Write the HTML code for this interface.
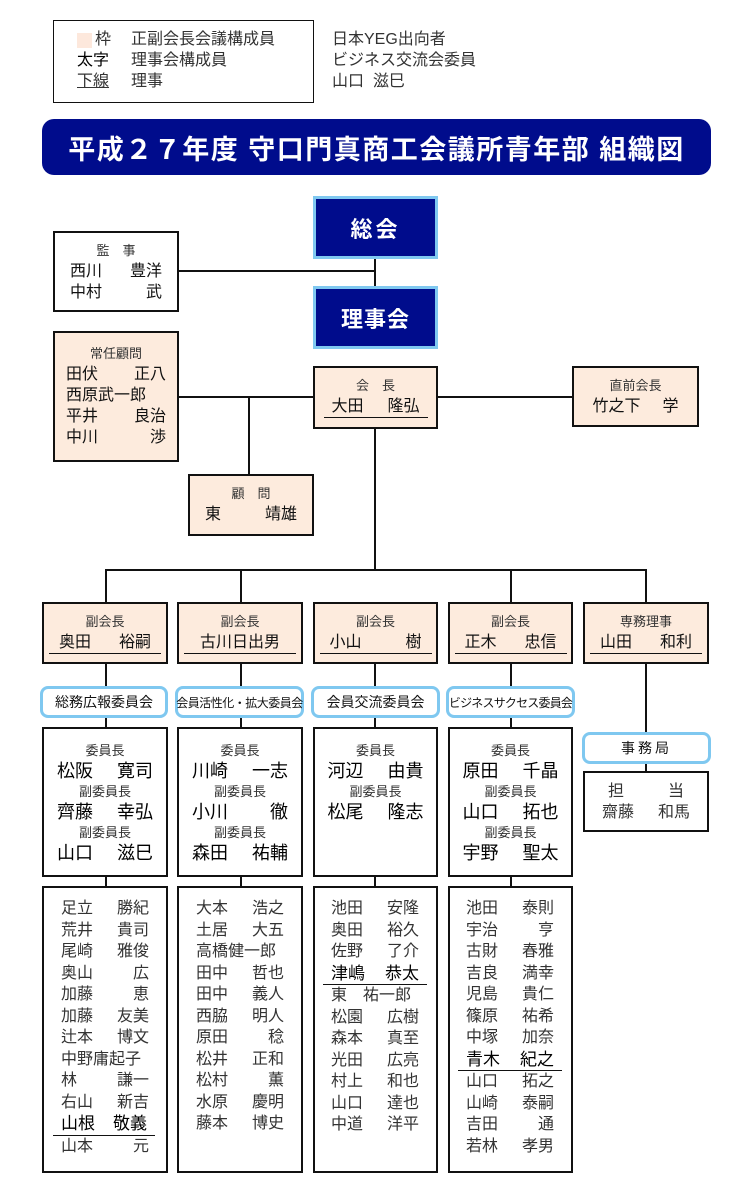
<!DOCTYPE html>
<html><head><meta charset="utf-8">
<style>
*{margin:0;padding:0;box-sizing:border-box}
body{width:750px;height:1200px;background:#fff;position:relative;font-family:"Liberation Sans","Noto Sans CJK JP",sans-serif;color:#222;overflow:hidden}
.a{position:absolute}
.box{position:absolute;border:2px solid #111;background:#fff}
.pk{background:#fdebdd}
.ln{position:absolute;background:#111}
.navy{position:absolute;background:#000c8c;border:3px solid #7fc8f0;color:#fff;font-weight:bold;font-size:22px;display:flex;align-items:center;justify-content:center;letter-spacing:3px}
.pill{position:absolute;border:3px solid #7fc8f0;border-radius:8px;background:#fff;display:flex;align-items:center;justify-content:center;font-size:14px;color:#111;white-space:nowrap}
.c{text-align:center}
.sm{font-size:13px;color:#333;line-height:20px}
.nm{display:flex;justify-content:space-between;font-size:16px;line-height:21px;color:#111}
.lst{position:absolute;top:898px}
.lst .nm{color:#333;line-height:21.5px;width:88px}
.b{color:#000!important;font-size:18px}
.u{border-bottom:1.5px solid #111}
</style></head><body>

<!-- legend -->
<div class="box" style="left:53px;top:20px;width:261px;height:83px;border-width:1.5px"></div>
<div class="a" style="left:77px;top:33px;width:15px;height:15px;background:#fde8dc"></div>
<div class="a" style="left:95px;top:29px;font-size:16px;line-height:21px;color:#333">枠</div>
<div class="a" style="left:77px;top:50px;font-size:16px;line-height:21px;color:#000">太字<br><span style="text-decoration:underline;color:#333">下線</span></div>
<div class="a" style="left:131px;top:29px;font-size:16px;line-height:21px;color:#333">正副会長会議構成員<br>理事会構成員<br>理事</div>
<div class="a" style="left:332px;top:29px;font-size:16px;line-height:21px;color:#333">日本YEG出向者<br>ビジネス交流会委員<br>山口&nbsp; 滋巳</div>

<!-- title -->
<div class="a" style="left:42px;top:119px;width:669px;height:56px;background:#000c8c;border-radius:12px;color:#fff;font-weight:bold;font-size:27px;display:flex;align-items:center;justify-content:center;letter-spacing:1.5px">平成２７年度 守口門真商工会議所青年部 組織図</div>

<!-- top nodes -->
<div class="navy" style="left:313px;top:196px;width:125px;height:63px">総会</div>
<div class="navy" style="left:313px;top:286px;width:125px;height:63px;letter-spacing:1px">理事会</div>
<div class="ln" style="left:374px;top:259px;width:2px;height:27px"></div>
<div class="ln" style="left:178px;top:270px;width:197px;height:2px"></div>

<div class="box" style="left:53px;top:231px;width:126px;height:81px">
 <div class="c sm" style="margin-top:8px">監　事</div>
 <div style="width:92px;margin:0 auto"><div class="nm"><span>西川</span><span>豊洋</span></div><div class="nm"><span>中村</span><span>武</span></div></div>
</div>

<div class="box pk" style="left:53px;top:331px;width:126px;height:131px">
 <div class="c sm" style="margin-top:11px">常任顧問</div>
 <div style="width:100px;margin:0 auto"><div class="nm"><span>田伏</span><span>正八</span></div><div class="nm"><span>西原武一郎</span></div><div class="nm"><span>平井</span><span>良治</span></div><div class="nm"><span>中川</span><span>渉</span></div></div>
</div>

<div class="ln" style="left:178px;top:396px;width:135px;height:2px"></div>
<div class="ln" style="left:437px;top:396px;width:135px;height:2px"></div>
<div class="ln" style="left:248px;top:396px;width:2px;height:78px"></div>
<div class="ln" style="left:374px;top:428px;width:2px;height:143px"></div>

<div class="box pk" style="left:313px;top:366px;width:125px;height:63px">
 <div class="c sm" style="margin-top:8px">会　長</div>
 <div class="nm u" style="width:104px;margin:0 auto;padding:0 8px"><span>大田</span><span>隆弘</span></div>
</div>
<div class="box pk" style="left:572px;top:366px;width:127px;height:61px">
 <div class="c sm" style="margin-top:8px">直前会長</div>
 <div class="nm" style="width:86px;margin:0 auto"><span>竹之下</span><span>学</span></div>
</div>
<div class="box pk" style="left:188px;top:474px;width:126px;height:62px">
 <div class="c sm" style="margin-top:8px">顧　問</div>
 <div class="nm" style="width:92px;margin:0 auto"><span>東</span><span>靖雄</span></div>
</div>

<!-- branch -->
<div class="ln" style="left:105px;top:569px;width:541px;height:2px"></div>
<div class="ln" style="left:105px;top:569px;width:2px;height:33px"></div>
<div class="ln" style="left:240px;top:569px;width:2px;height:33px"></div>
<div class="ln" style="left:510px;top:569px;width:2px;height:33px"></div>
<div class="ln" style="left:645px;top:569px;width:2px;height:33px"></div>

<!-- column vertical lines -->
<div class="ln" style="left:105px;top:662px;width:2px;height:230px"></div>
<div class="ln" style="left:240px;top:662px;width:2px;height:230px"></div>
<div class="ln" style="left:374px;top:662px;width:2px;height:230px"></div>
<div class="ln" style="left:510px;top:662px;width:2px;height:230px"></div>
<div class="ln" style="left:645px;top:662px;width:2px;height:115px"></div>

<!-- vice presidents -->
<div class="box pk" style="left:42px;top:602px;width:126px;height:62px"><div class="c sm" style="margin-top:8px">副会長</div><div class="nm u" style="width:112px;margin:0 auto;padding:0 10px"><span>奥田</span><span>裕嗣</span></div></div>
<div class="box pk" style="left:177px;top:602px;width:126px;height:62px"><div class="c sm" style="margin-top:8px">副会長</div><div class="nm u" style="width:112px;margin:0 auto;justify-content:center"><span>古川日出男</span></div></div>
<div class="box pk" style="left:313px;top:602px;width:125px;height:62px"><div class="c sm" style="margin-top:8px">副会長</div><div class="nm u" style="width:112px;margin:0 auto;padding:0 10px"><span>小山</span><span>樹</span></div></div>
<div class="box pk" style="left:448px;top:602px;width:125px;height:62px"><div class="c sm" style="margin-top:8px">副会長</div><div class="nm u" style="width:112px;margin:0 auto;padding:0 10px"><span>正木</span><span>忠信</span></div></div>
<div class="box pk" style="left:583px;top:602px;width:126px;height:62px"><div class="c sm" style="margin-top:8px">専務理事</div><div class="nm u" style="width:112px;margin:0 auto;padding:0 10px"><span>山田</span><span>和利</span></div></div>

<!-- committee pills -->
<div class="pill" style="left:40px;top:686px;width:128px;height:32px">総務広報委員会</div>
<div class="pill" style="left:175px;top:686px;width:129px;height:32px;font-size:12px;letter-spacing:-0.5px">会員活性化・拡大委員会</div>
<div class="pill" style="left:311px;top:686px;width:129px;height:32px">会員交流委員会</div>
<div class="pill" style="left:446px;top:686px;width:129px;height:32px;font-size:12px;letter-spacing:-0.8px">ビジネスサクセス委員会</div>
<div class="pill" style="left:582px;top:732px;width:129px;height:32px;letter-spacing:3px">事務局</div>

<!-- committee chairs -->
<div class="box" style="left:42px;top:727px;width:126px;height:150px"><div style="width:96px;margin:12px auto 0">
<div class="c sm">委員長</div><div class="nm b"><span>松阪</span><span>寛司</span></div>
<div class="c sm">副委員長</div><div class="nm b"><span>齊藤</span><span>幸弘</span></div>
<div class="c sm">副委員長</div><div class="nm b"><span>山口</span><span>滋巳</span></div></div></div>
<div class="box" style="left:177px;top:727px;width:126px;height:150px"><div style="width:96px;margin:12px auto 0">
<div class="c sm">委員長</div><div class="nm b"><span>川崎</span><span>一志</span></div>
<div class="c sm">副委員長</div><div class="nm b"><span>小川</span><span>徹</span></div>
<div class="c sm">副委員長</div><div class="nm b"><span>森田</span><span>祐輔</span></div></div></div>
<div class="box" style="left:313px;top:727px;width:125px;height:150px"><div style="width:96px;margin:12px auto 0">
<div class="c sm">委員長</div><div class="nm b"><span>河辺</span><span>由貴</span></div>
<div class="c sm">副委員長</div><div class="nm b"><span>松尾</span><span>隆志</span></div></div></div>
<div class="box" style="left:448px;top:727px;width:125px;height:150px"><div style="width:96px;margin:12px auto 0">
<div class="c sm">委員長</div><div class="nm b"><span>原田</span><span>千晶</span></div>
<div class="c sm">副委員長</div><div class="nm b"><span>山口</span><span>拓也</span></div>
<div class="c sm">副委員長</div><div class="nm b"><span>宇野</span><span>聖太</span></div></div></div>
<div class="box" style="left:583px;top:771px;width:126px;height:61px"><div style="width:88px;margin:8px auto 0">
<div class="nm" style="color:#333;padding:0 6px"><span>担</span><span>当</span></div><div class="nm" style="color:#333"><span>齋藤</span><span>和馬</span></div></div></div>

<!-- member lists -->
<div class="box" style="left:42px;top:886px;width:126px;height:287px"></div>
<div class="box" style="left:177px;top:886px;width:126px;height:287px"></div>
<div class="box" style="left:313px;top:886px;width:125px;height:287px"></div>
<div class="box" style="left:448px;top:886px;width:125px;height:287px"></div>

<div class="lst" style="left:61px">
<div class="nm"><span>足立</span><span>勝紀</span></div><div class="nm"><span>荒井</span><span>貴司</span></div><div class="nm"><span>尾崎</span><span>雅俊</span></div><div class="nm"><span>奥山</span><span>広</span></div><div class="nm"><span>加藤</span><span>恵</span></div><div class="nm"><span>加藤</span><span>友美</span></div><div class="nm"><span>辻本</span><span>博文</span></div><div class="nm"><span>中野庸起子</span></div><div class="nm"><span>林</span><span>謙一</span></div><div class="nm"><span>右山</span><span>新吉</span></div><div class="nm b" style="border-bottom:1.5px solid #111;width:102px;margin-left:-8px;padding:0 8px 0 8px;font-size:17px"><span>山根</span><span>敬義</span></div><div class="nm"><span>山本</span><span>元</span></div>
</div>
<div class="lst" style="left:196px">
<div class="nm"><span>大本</span><span>浩之</span></div><div class="nm"><span>土居</span><span>大五</span></div><div class="nm"><span>高橋健一郎</span></div><div class="nm"><span>田中</span><span>哲也</span></div><div class="nm"><span>田中</span><span>義人</span></div><div class="nm"><span>西脇</span><span>明人</span></div><div class="nm"><span>原田</span><span>稔</span></div><div class="nm"><span>松井</span><span>正和</span></div><div class="nm"><span>松村</span><span>薫</span></div><div class="nm"><span>水原</span><span>慶明</span></div><div class="nm"><span>藤本</span><span>博史</span></div>
</div>
<div class="lst" style="left:331px">
<div class="nm"><span>池田</span><span>安隆</span></div><div class="nm"><span>奥田</span><span>裕久</span></div><div class="nm"><span>佐野</span><span>了介</span></div><div class="nm b" style="border-bottom:1.5px solid #111;width:104px;margin-left:-8px;padding:0 8px;font-size:17px"><span>津嶋</span><span>恭太</span></div><div class="nm"><span>東　祐一郎</span></div><div class="nm"><span>松園</span><span>広樹</span></div><div class="nm"><span>森本</span><span>真至</span></div><div class="nm"><span>光田</span><span>広亮</span></div><div class="nm"><span>村上</span><span>和也</span></div><div class="nm"><span>山口</span><span>達也</span></div><div class="nm"><span>中道</span><span>洋平</span></div>
</div>
<div class="lst" style="left:466px">
<div class="nm"><span>池田</span><span>泰則</span></div><div class="nm"><span>宇治</span><span>亨</span></div><div class="nm"><span>古財</span><span>春雅</span></div><div class="nm"><span>吉良</span><span>満幸</span></div><div class="nm"><span>児島</span><span>貴仁</span></div><div class="nm"><span>篠原</span><span>祐希</span></div><div class="nm"><span>中塚</span><span>加奈</span></div><div class="nm b" style="border-bottom:1.5px solid #111;width:104px;margin-left:-8px;padding:0 8px;font-size:17px"><span>青木</span><span>紀之</span></div><div class="nm"><span>山口</span><span>拓之</span></div><div class="nm"><span>山崎</span><span>泰嗣</span></div><div class="nm"><span>吉田</span><span>通</span></div><div class="nm"><span>若林</span><span>孝男</span></div>
</div>

</body></html>
